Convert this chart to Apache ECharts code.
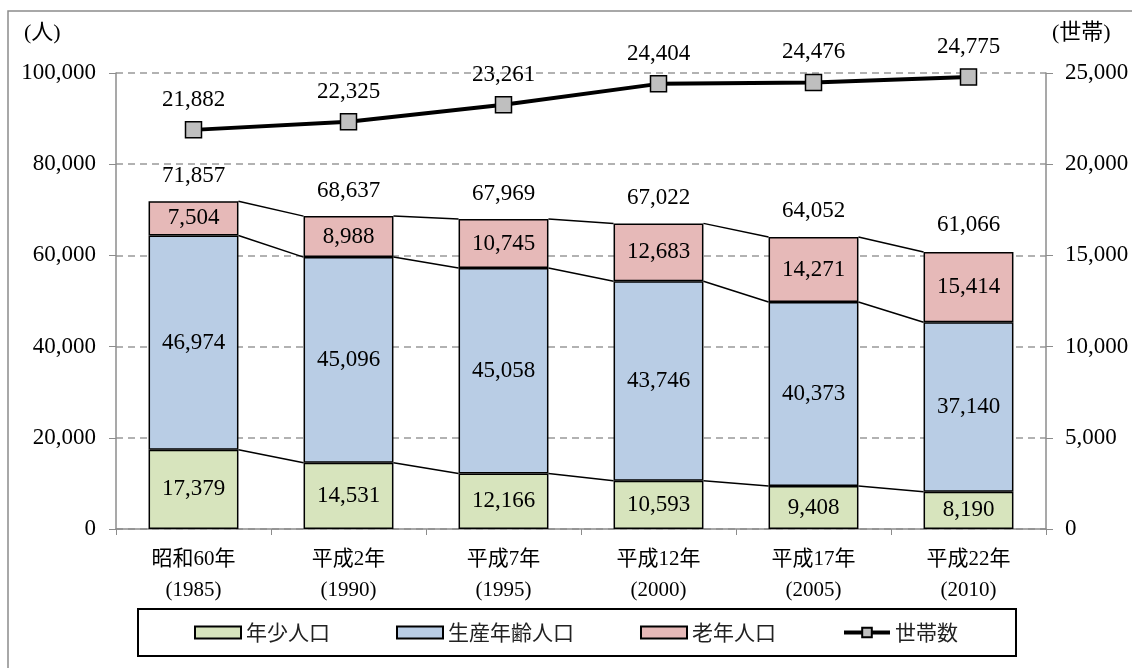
<!DOCTYPE html>
<html>
<head>
<meta charset="utf-8">
<script src="https://cdn.jsdelivr.net/npm/echarts@6/dist/echarts.min.js"></script>
<style>
  html, body { margin: 0; padding: 0; background: #fff; }
  #chart { width: 1132px; height: 668px; }
</style>
</head>
<body>
<div id="chart"></div>
<script>
// 年次
var years = ['昭和60年\n(1985)', '平成2年\n(1990)', '平成7年\n(1995)', '平成12年\n(2000)', '平成17年\n(2005)', '平成22年\n(2010)'];
// 年齢別人口（人）
var youth = [17379, 14531, 12166, 10593, 9408, 8190];
var working = [46974, 45096, 45058, 43746, 40373, 37140];
var elderly = [7504, 8988, 10745, 12683, 14271, 15414];
// 総人口（年齢不詳を含む）
var totals = [71857, 68637, 67969, 67022, 64052, 61066];
// 世帯数
var households = [21882, 22325, 23261, 24404, 24476, 24775];

var numFont = '"Liberation Serif", "Noto Sans CJK JP", serif';
var jpFont = '"Noto Sans CJK JP", sans-serif';
var fmt = function (v) { return Number(v).toLocaleString('en-US'); };
var BAR_RATIO = 0.58;

// 各棒の積み上げ境界を結ぶ線のデータ
var connectors = [];
for (var i = 0; i < years.length - 1; i++) {
  connectors.push([
    i,
    youth[i], youth[i] + working[i], youth[i] + working[i] + elderly[i],
    youth[i + 1], youth[i + 1] + working[i + 1], youth[i + 1] + working[i + 1] + elderly[i + 1]
  ]);
}

var chart = echarts.init(document.getElementById('chart'));

var barLabel = {
  show: true,
  position: 'inside',
  color: '#000',
  fontSize: 23,
  fontFamily: numFont,
  formatter: function (p) { return fmt(p.value); }
};

var option = {
  animation: false,
  backgroundColor: '#fff',
  graphic: [
    {
      type: 'rect',
      shape: { x: 8, y: 11, width: 1200, height: 700 },
      style: { fill: 'none', stroke: '#8c8c8c', lineWidth: 1.5 },
      silent: true
    },
    {
      type: 'text', left: 24, top: 22,
      style: { text: '(人)', fontSize: 22, fontFamily: numFont, fill: '#000' }
    },
    {
      type: 'text', left: 1052, top: 22,
      style: { text: '(世帯)', fontSize: 22, fontFamily: numFont, fill: '#000' }
    }
  ],
  grid: { left: 116, right: 86, top: 73, bottom: 139 },
  legend: {
    left: 138,
    top: 609,
    padding: [13, 58, 13, 56],
    borderColor: '#000',
    borderWidth: 2,
    itemWidth: 46,
    itemHeight: 12,
    itemGap: 66,
    textStyle: { fontSize: 21, fontFamily: jpFont, color: '#222' },
    data: [
      { name: '年少人口', icon: 'rect' },
      { name: '生産年齢人口', icon: 'rect' },
      { name: '老年人口', icon: 'rect' },
      { name: '世帯数', lineStyle: { width: 4 } }
    ]
  },
  xAxis: {
    type: 'category',
    data: years,
    axisLine: { lineStyle: { color: '#8c8c8c', width: 1.5 } },
    axisTick: { show: true, length: 6, lineStyle: { color: '#8c8c8c' } },
    axisLabel: {
      color: '#000', fontSize: 21, fontFamily: numFont,
      lineHeight: 31, margin: 15
    }
  },
  yAxis: [
    {
      type: 'value', min: 0, max: 100000, interval: 20000,
      axisLine: { show: true, lineStyle: { color: '#8c8c8c', width: 1.5 } },
      axisTick: { show: true, length: 7, lineStyle: { color: '#8c8c8c' } },
      axisLabel: { color: '#000', fontSize: 23, fontFamily: numFont, margin: 20, formatter: fmt },
      splitLine: { show: true, lineStyle: { color: '#999', type: [7, 5], width: 1.5 } }
    },
    {
      type: 'value', min: 0, max: 25000, interval: 5000,
      axisLine: { show: true, lineStyle: { color: '#8c8c8c', width: 1.5 } },
      axisTick: { show: true, length: 7, lineStyle: { color: '#8c8c8c' } },
      axisLabel: { color: '#000', fontSize: 23, fontFamily: numFont, margin: 19, formatter: fmt },
      splitLine: { show: false }
    }
  ],
  series: [
    {
      name: '年少人口', type: 'bar', stack: 'pop', data: youth,
      barWidth: (BAR_RATIO * 100) + '%',
      itemStyle: { color: '#d7e4bd', borderColor: '#000', borderWidth: 1.5 },
      label: barLabel
    },
    {
      name: '生産年齢人口', type: 'bar', stack: 'pop', data: working,
      barWidth: (BAR_RATIO * 100) + '%',
      itemStyle: { color: '#b9cde5', borderColor: '#000', borderWidth: 1.5 },
      label: barLabel
    },
    {
      name: '老年人口', type: 'bar', stack: 'pop', data: elderly,
      barWidth: (BAR_RATIO * 100) + '%',
      itemStyle: { color: '#e6b9b8', borderColor: '#000', borderWidth: 1.5 },
      label: barLabel
    },
    {
      // 総数ラベル
      name: '総数', type: 'scatter', data: totals,
      symbolSize: 0, silent: true,
      itemStyle: { opacity: 1 },
      label: {
        show: true, position: 'top', distance: 14,
        color: '#000', fontSize: 23, fontFamily: numFont,
        formatter: function (p) { return fmt(p.value); }
      }
    },
    {
      // 区分線
      name: '区分線', type: 'custom', silent: true,
      data: connectors,
      encode: { x: 0, y: [1, 2, 3, 4, 5, 6] },
      renderItem: function (params, api) {
        var bw = api.size([1, 0])[0] * BAR_RATIO;
        var idx = api.value(0);
        var children = [];
        for (var k = 1; k <= 3; k++) {
          var p1 = api.coord([idx, api.value(k)]);
          var p2 = api.coord([idx + 1, api.value(k + 3)]);
          children.push({
            type: 'line',
            shape: { x1: p1[0] + bw / 2, y1: p1[1], x2: p2[0] - bw / 2, y2: p2[1] },
            style: { stroke: '#000', lineWidth: 1.5 }
          });
        }
        return { type: 'group', children: children };
      }
    },
    {
      name: '世帯数', type: 'line', yAxisIndex: 1, data: households,
      symbol: 'rect', symbolSize: 16,
      lineStyle: { color: '#000', width: 4 },
      itemStyle: { color: '#bfbfbf', borderColor: '#000', borderWidth: 1.5 },
      label: {
        show: true, position: 'top', distance: 10,
        color: '#000', fontSize: 23, fontFamily: numFont,
        formatter: function (p) { return fmt(p.value); }
      },
      z: 5
    }
  ]
};

chart.setOption(option);
</script>
</body>
</html>
